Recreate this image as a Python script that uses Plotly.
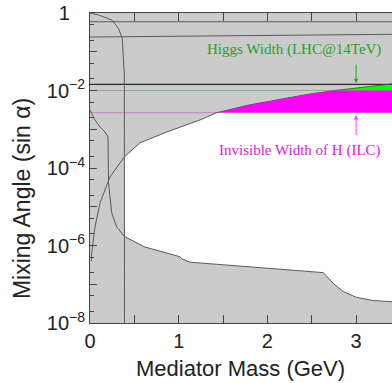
import numpy as np
import plotly.graph_objects as go

# ---- data (x in GeV, y as log10(sin alpha)) ----
upper_x = [0.015, 0.019, 0.056, 0.113, 0.225, 0.389, 0.564, 0.868, 1.24, 1.43, 1.80, 2.14, 2.48, 2.76, 3.01, 3.405]
upper_log = [-6.40, -6.19, -5.52, -4.90, -4.23, -3.71, -3.35, -3.07, -2.76, -2.573, -2.37, -2.23, -2.09, -2.0, -1.94, -1.83]

lower_x = [0.0, 0.056, 0.113, 0.169, 0.203, 0.206, 0.209, 0.245, 0.301, 0.389, 0.507, 0.62, 1.015, 1.037, 1.127, 1.80, 2.37, 2.63, 2.743, 2.856, 3.007, 3.194, 3.405]
lower_log = [-2.50, -2.76, -2.94, -3.07, -3.20, -3.54, -4.39, -5.16, -5.52, -5.77, -5.91, -6.04, -6.29, -6.35, -6.43, -6.55, -6.66, -6.70, -6.98, -7.19, -7.34, -7.42, -7.45]

topleft_x = [0.0, 0.094, 0.245, 0.319, 0.364, 0.375, 0.387, 0.389]
topleft_log = [0.0, -0.05, -0.18, -0.39, -0.65, -1.08, -1.6, -8.0]

allowed_xmin = 0.389          # left edge of allowed (white) region
x_end = 3.405                  # right end of visible range

hline_top_log = -0.225
hline2_x = [0.0, 3.405]
hline2_log = [-0.62, -0.55]
black_log = -1.84
green_log = -2.0
green_x_end = 2.76
magenta_log = -2.573
magenta_x_end = 1.43

x_tickvals = [0, 0.5, 1, 1.5, 2, 2.5, 3]
x_ticktext = ["0", "", "1", "", "2", "", "3"]
y_tickvals = [1, 1e-1, 1e-2, 1e-3, 1e-4, 1e-5, 1e-6, 1e-7, 1e-8]
y_ticktext = ["1\u2007\u2009", "", "10<sup>−2</sup>", "", "10<sup>−4</sup>", "", "10<sup>−6</sup>", "", "10<sup>−8</sup>"]

x_title = "Mediator Mass (GeV)"
y_title = "Mixing Angle (sin α)"
green_label = "Higgs Width (LHC@14TeV)"
magenta_label = "Invisible Width of H (ILC)"
arrow_x = 3.0
green_arrow_log = (-1.29, -1.81)
magenta_arrow_log = (-3.19, -2.63)


def p(v):
    return [10 ** a for a in v]


ux = np.array(upper_x); ul = np.array(upper_log)
lx = np.array(lower_x); ll = np.array(lower_log)

fig = go.Figure()
line_col = "#5a5a5a"

# white allowed region
mu = ux >= allowed_xmin
ml = lx >= allowed_xmin
wx = list(ux[mu]) + list(lx[ml][::-1])
wy = list(ul[mu]) + list(ll[ml][::-1])
fig.add_trace(go.Scatter(x=wx, y=p(wy), fill="toself", fillcolor="white",
                         line=dict(width=0), mode="lines", hoverinfo="skip"))

# magenta region
mm = ux >= magenta_x_end
mx = list(ux[mm]) + [x_end, magenta_x_end]
my = list(ul[mm]) + [magenta_log, magenta_log]
fig.add_trace(go.Scatter(x=mx, y=p(my), fill="toself", fillcolor="#ff00ff",
                         line=dict(width=0), mode="lines", hoverinfo="skip"))

# green region
mg = ux >= green_x_end
gx = list(ux[mg]) + [x_end, green_x_end]
gy = list(ul[mg]) + [green_log, green_log]
fig.add_trace(go.Scatter(x=gx, y=p(gy), fill="toself", fillcolor="#00ff00",
                         line=dict(width=0), mode="lines", hoverinfo="skip"))


def addline(x, ylog, color=line_col, width=1):
    fig.add_trace(go.Scatter(x=x, y=p(ylog), mode="lines",
                             line=dict(color=color, width=width), hoverinfo="skip"))


addline([0, green_x_end], [green_log, green_log], color="rgba(120,180,120,0.85)")
addline([0, magenta_x_end], [magenta_log, magenta_log], color="rgba(190,130,190,0.9)")
addline([0, x_end], [hline_top_log, hline_top_log])
addline(hline2_x, hline2_log)
addline([0, x_end], [black_log, black_log], color="#2a2a2a", width=1.2)
addline(upper_x, upper_log)
addline(lower_x, lower_log)
addline(topleft_x, topleft_log)

serif = "Liberation Serif, Times New Roman, serif"
sans = "Liberation Sans, Arial, sans-serif"

fig.add_annotation(x=3.30, y=-0.95, text=green_label, showarrow=False, xanchor="right",
                   font=dict(family=serif, size=15, color="#28a028"))
fig.add_annotation(x=3.30, y=-3.55, text=magenta_label, showarrow=False, xanchor="right",
                   font=dict(family=serif, size=15, color="#e020e0"))
fig.add_annotation(x=arrow_x, y=green_arrow_log[1], ax=arrow_x, ay=green_arrow_log[0],
                   axref="x", ayref="y", showarrow=True, arrowhead=2, arrowsize=0.9,
                   arrowwidth=1, arrowcolor="#28a028", text="")
fig.add_annotation(x=arrow_x, y=magenta_arrow_log[1], ax=arrow_x, ay=magenta_arrow_log[0],
                   axref="x", ayref="y", showarrow=True, arrowhead=2, arrowsize=0.9,
                   arrowwidth=1, arrowcolor="#ff40ff", text="")

# axis titles
fig.add_annotation(xref="paper", yref="paper", x=0.497, y=-0.148, text=x_title,
                   showarrow=False, xanchor="center", yanchor="middle",
                   font=dict(family=sans, size=22, color="#222"))
fig.add_annotation(xref="paper", yref="paper", x=-0.225, y=0.40, text=y_title,
                   showarrow=False, xanchor="center", yanchor="middle", textangle=-90,
                   font=dict(family=sans, size=23, color="#222"))

fig.update_layout(
    width=392, height=383,
    margin=dict(l=90, r=0, t=13, b=60),
    paper_bgcolor="white", plot_bgcolor="#cbcbcb",
    showlegend=False,
    font=dict(family=sans, color="#222"),
)
fig.update_xaxes(range=[0, x_end], tickvals=x_tickvals, ticktext=x_ticktext,
                 ticks="inside", ticklen=8, tickcolor="#444", showline=True,
                 linecolor="#444", mirror="ticks", showgrid=False, zeroline=False,
                 automargin=False, tickfont=dict(size=20, family=sans))
fig.update_yaxes(type="log", range=[-8, 0], tickvals=y_tickvals, ticktext=y_ticktext,
                 ticks="inside", ticklen=7, tickcolor="#444", showline=True,
                 linecolor="#444", mirror=False, showgrid=False, zeroline=False,
                 automargin=False,
                 minor=dict(ticks="inside", ticklen=4, dtick="D2", tickcolor="#444"),
                 tickfont=dict(size=20, family=sans))

fig.write_html("out.html", config={"displayModeBar": False},
               post_script="document.body.style.margin='0';document.body.style.overflow='hidden';")
